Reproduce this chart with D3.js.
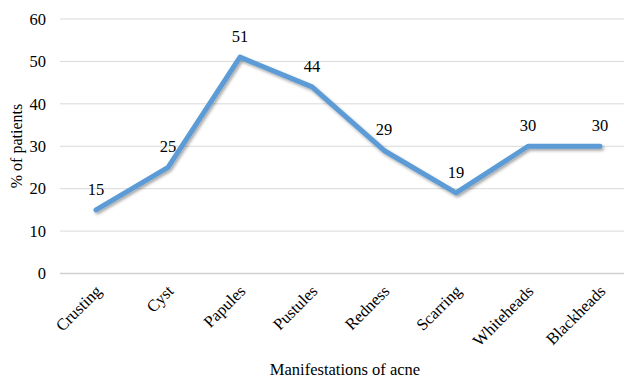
<!DOCTYPE html>
<html>
<head>
    <script src="https://d3js.org/d3.v7.min.js"></script>
    <style>
        body { margin: 0; background: #fff; }
        svg text { font-family: "Liberation Serif", "Times New Roman", Times, serif !important; fill: #000; }
    </style>
</head>
<body>
    <script type="text/javascript">

        //Chart data
        var categories = ["Crusting", "Cyst", "Papules", "Pustules", "Redness", "Scarring", "Whiteheads", "Blackheads"];
        var percentValues = [15, 25, 51, 44, 29, 19, 30, 30];
        var yTicks = [0, 10, 20, 30, 40, 50, 60];

        var width = 624, height = 381;

        var svg = d3.select("body")
            .append("svg")
            .attr("width", width)
            .attr("height", height);

        //Drop shadow for the line
        var filter = svg.append("defs").append("filter")
            .attr("id", "shadow")
            .attr("x", "-10%").attr("y", "-10%")
            .attr("width", "120%").attr("height", "130%");
        filter.append("feDropShadow")
            .attr("dx", 1.5).attr("dy", 2)
            .attr("stdDeviation", 1.5)
            .attr("flood-color", "#000")
            .attr("flood-opacity", 0.35);

        //Scales
        var xScale = d3.scalePoint()
            .domain(categories)
            .range([60, 636])
            .padding(0.5);

        var yScale = d3.scaleLinear()
            .domain([0, 60])
            .range([273.5, 19]);

        //Gridlines
        svg.append("g")
            .selectAll("line")
            .data(yTicks)
            .enter()
            .append("line")
            .attr("x1", 60)
            .attr("x2", width)
            .attr("y1", function (d) { return yScale(d); })
            .attr("y2", function (d) { return yScale(d); })
            .attr("stroke", function (d) { return d === 0 ? "#d0d0d0" : "#d9d9d9"; })
            .attr("stroke-width", function (d) { return d === 0 ? 1.5 : 1; });

        //Y axis labels
        var yAxis = d3.axisLeft(yScale)
            .tickValues(yTicks)
            .tickSize(0)
            .tickPadding(0);

        svg.append("g")
            .attr("transform", "translate(46,0)")
            .call(yAxis)
            .call(function (g) { g.select(".domain").remove(); })
            .selectAll("text")
            .style("font-size", "16.5px")
            .attr("fill", "#000");

        //X axis labels
        var xAxis = d3.axisBottom(xScale).tickSize(0).tickPadding(0);

        svg.append("g")
            .attr("transform", "translate(0,288)")
            .call(xAxis)
            .call(function (g) { g.select(".domain").remove(); })
            .selectAll("text")
            .style("font-size", "16.5px")
            .attr("fill", "#000")
            .attr("text-anchor", "end")
            .attr("dy", "0.35em")
            .attr("transform", "translate(2,0) rotate(-45)");

        //Line
        var line = d3.line()
            .x(function (d, i) { return xScale(categories[i]); })
            .y(function (d) { return yScale(d); });

        svg.append("path")
            .attr("d", line(percentValues))
            .attr("fill", "none")
            .attr("stroke", "#5b9bd5")
            .attr("stroke-width", 5)
            .attr("stroke-linecap", "round")
            .attr("stroke-linejoin", "round")
            .attr("filter", "url(#shadow)");

        //Data labels
        svg.append("g")
            .selectAll("text")
            .data(percentValues)
            .enter()
            .append("text")
            .attr("x", function (d, i) { return xScale(categories[i]); })
            .attr("y", function (d) { return yScale(d) - 15; })
            .attr("text-anchor", "middle")
            .style("font-size", "16.5px")
            .text(function (d) { return d; });

        //Axis titles
        svg.append("text")
            .attr("x", 345)
            .attr("y", 375)
            .attr("text-anchor", "middle")
            .style("font-size", "16.5px")
            .text("Manifestations of acne");

        svg.append("text")
            .attr("transform", "translate(22,146) rotate(-90)")
            .attr("text-anchor", "middle")
            .style("font-size", "16px")
            .text("% of patients");

    </script>
</body>
</html>
